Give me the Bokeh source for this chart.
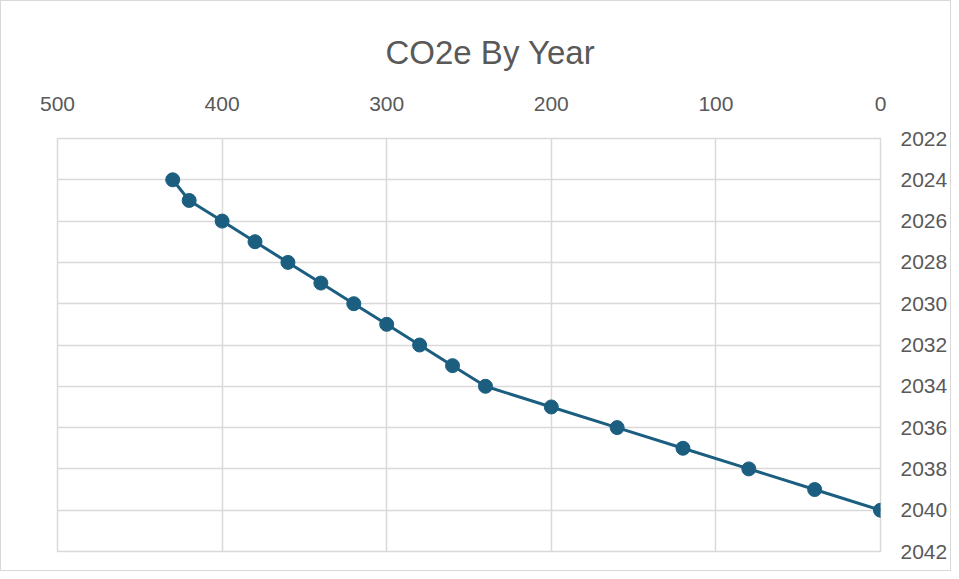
from bokeh.plotting import figure
from bokeh.models import Range1d, LinearAxis, FixedTicker
from bokeh.embed import file_html
from bokeh.resources import INLINE

years = [2024, 2025, 2026, 2027, 2028, 2029, 2030, 2031, 2032, 2033,
         2034, 2035, 2036, 2037, 2038, 2039, 2040]
co2e = [430, 420, 400, 380, 360, 340, 320, 300, 280, 260,
        240, 200, 160, 120, 80, 40, 0]
x_ticks = [500, 400, 300, 200, 100, 0]
y_ticks = list(range(2022, 2043, 2))

LINE = "#1B5E80"
GRID = "#D9D9D9"
TXT = "#595959"
FONT = "Liberation Sans"

p = figure(width=951, height=571, output_backend="svg", toolbar_location=None,
           x_range=Range1d(500, 0), y_range=Range1d(2042, 2022),
           x_axis_location=None, y_axis_location=None,
           min_border_left=56, min_border_right=72, min_border_top=137,
           min_border_bottom=21)
p.styles = {"border": "1px solid #D9D9D9"}

p.title.text = "CO2e By Year"
p.title.align = "left"
p.title.offset = 328
p.title.text_font = FONT
p.title.text_font_size = "33px"
p.title.text_font_style = "normal"
p.title.text_color = TXT
p.title.standoff = 46

xa = LinearAxis(ticker=FixedTicker(ticks=x_ticks))
ya = LinearAxis(ticker=FixedTicker(ticks=y_ticks))
for ax in (xa, ya):
    ax.axis_line_color = None
    ax.major_tick_line_color = None
    ax.minor_tick_line_color = None
    ax.major_tick_out = 0
    ax.major_tick_in = 0
    ax.minor_tick_out = 0
    ax.major_label_text_font = FONT
    ax.major_label_text_font_size = "21px"
    ax.major_label_text_color = TXT
xa.major_label_standoff = 28
ya.major_label_standoff = 20
p.add_layout(xa, "above")
p.add_layout(ya, "right")

p.xgrid.ticker = FixedTicker(ticks=x_ticks)
p.ygrid.ticker = FixedTicker(ticks=y_ticks)
for g in (p.xgrid, p.ygrid):
    g.grid_line_color = GRID
    g.grid_line_width = 1.5
p.outline_line_color = GRID
p.outline_line_width = 1.5

p.line(co2e, years, line_color=LINE, line_width=3)
p.scatter(co2e, years, size=14, fill_color=LINE, line_color=LINE)

open("out.html", "w").write(file_html(p, INLINE))
